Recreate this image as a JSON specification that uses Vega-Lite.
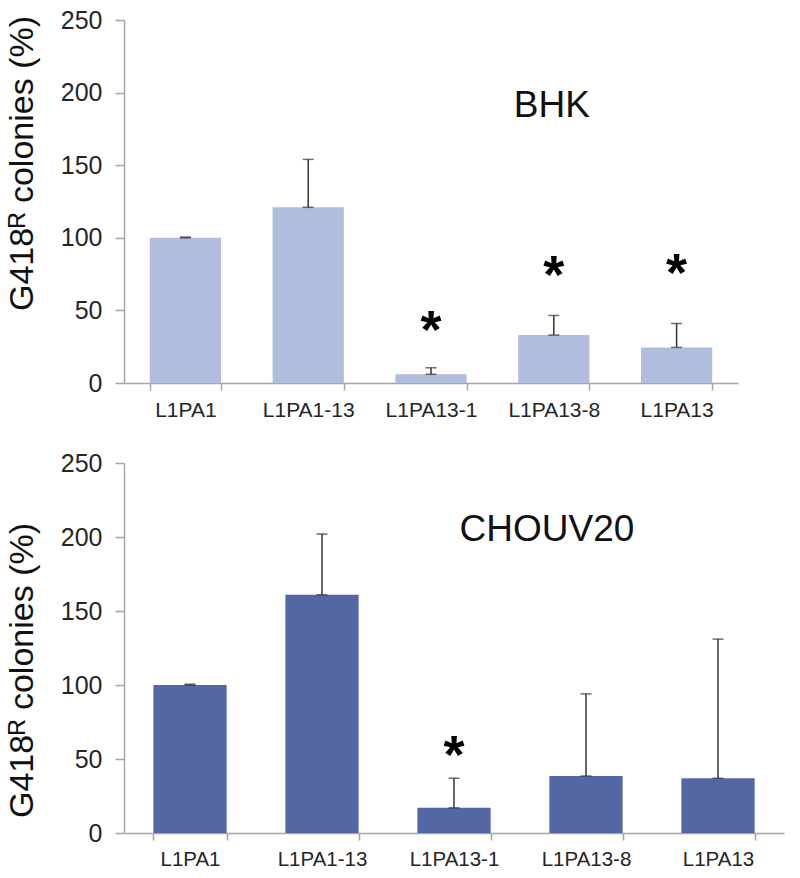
{
  "$schema": "https://vega.github.io/schema/vega-lite/v6.json",
  "padding": {"top": 8, "left": 5, "right": 5, "bottom": 5},
  "background": "white",
  "config": {
    "view": {"stroke": null},
    "font": "Liberation Sans",
    "axis": {"grid": false, "domainColor": "#a6a6a6", "tickColor": "#a6a6a6", "domainWidth": 1.5, "tickWidth": 1.5, "labelColor": "#262626", "titleColor": "#111111", "labelFont": "Liberation Sans", "titleFont": "Liberation Sans"}
  },
  "spacing": 31,
  "datasets": {
    "bhk": [
      {"cat": "L1PA1", "value": 100, "upper": 100.5, "star": null},
      {"cat": "L1PA1-13", "value": 121, "upper": 154, "star": null},
      {"cat": "L1PA13-1", "value": 6, "upper": 10.5, "star": 43},
      {"cat": "L1PA13-8", "value": 33, "upper": 46.5, "star": 80.7},
      {"cat": "L1PA13", "value": 24.5, "upper": 41, "star": 82}
    ],
    "chouv": [
      {"cat": "L1PA1", "value": 100, "upper": 100.5, "star": null},
      {"cat": "L1PA1-13", "value": 161, "upper": 202, "star": null},
      {"cat": "L1PA13-1", "value": 17, "upper": 37, "star": 59},
      {"cat": "L1PA13-8", "value": 38.5, "upper": 94, "star": null},
      {"cat": "L1PA13", "value": 37, "upper": 131, "star": null}
    ],
    "bhkLabel": [{"cat": "L1PA13-8", "y": 191, "label": "BHK"}],
    "chouvLabel": [{"cat": "L1PA13-8", "y": 205, "label": "CHOUV20"}]
  },
  "vconcat": [
    {
      "width": 614,
      "height": 363,
      "encoding": {
        "x": {"field": "cat", "type": "nominal", "sort": null,
              "scale": {"paddingInner": 0.42, "paddingOuter": 0.21},
              "axis": {"title": null, "labelAngle": 0, "labelFontSize": 21, "tickBand": "extent", "tickSize": 7, "labelPadding": 9}},
        "y": {"type": "quantitative", "scale": {"domain": [0, 250]},
              "axis": {"title": "G418ᴿ colonies (%)", "values": [0, 50, 100, 150, 200, 250], "labelFontSize": 25, "tickSize": 9, "labelPadding": 13, "titleFontSize": 34, "titleFontWeight": "normal", "titlePadding": 21, "titleY": 143}}
      },
      "layer": [
        {"data": {"name": "bhk"}, "mark": {"type": "bar", "color": "#b1bddd"}, "encoding": {"y": {"field": "value", "type": "quantitative"}}},
        {"data": {"name": "bhk"}, "mark": {"type": "rule", "color": "#333333", "strokeWidth": 1.5}, "encoding": {"y": {"field": "value", "type": "quantitative"}, "y2": {"field": "upper"}}},
        {"data": {"name": "bhk"}, "mark": {"type": "tick", "orient": "horizontal", "color": "#333333", "size": 11, "thickness": 1.5}, "encoding": {"y": {"field": "value", "type": "quantitative"}}},
        {"data": {"name": "bhk"}, "mark": {"type": "tick", "orient": "horizontal", "color": "#333333", "size": 11, "thickness": 1.5}, "encoding": {"y": {"field": "upper", "type": "quantitative"}}},
        {"data": {"name": "bhk"}, "transform": [{"filter": "datum.star != null"}], "mark": {"type": "text", "text": "*", "fontSize": 54, "fontWeight": "bold", "baseline": "middle", "dy": 11, "color": "#000000"}, "encoding": {"y": {"field": "star", "type": "quantitative"}}},
        {"data": {"name": "bhkLabel"}, "mark": {"type": "text", "fontSize": 37, "color": "#111111", "baseline": "middle", "dx": -2}, "encoding": {"y": {"field": "y", "type": "quantitative"}, "text": {"field": "label"}}}
      ]
    },
    {
      "width": 660,
      "height": 370,
      "encoding": {
        "x": {"field": "cat", "type": "nominal", "sort": null,
              "scale": {"paddingInner": 0.445, "paddingOuter": 0.2225},
              "axis": {"title": null, "labelAngle": 0, "labelFontSize": 20.5, "tickBand": "extent", "tickSize": 7, "labelPadding": 9}},
        "y": {"type": "quantitative", "scale": {"domain": [0, 250]},
              "axis": {"title": "G418ᴿ colonies (%)", "values": [0, 50, 100, 150, 200, 250], "labelFontSize": 25, "tickSize": 9, "labelPadding": 13, "titleFontSize": 34, "titleFontWeight": "normal", "titlePadding": 21, "titleY": 207}}
      },
      "layer": [
        {"data": {"name": "chouv"}, "mark": {"type": "bar", "color": "#5467a5"}, "encoding": {"y": {"field": "value", "type": "quantitative"}}},
        {"data": {"name": "chouv"}, "mark": {"type": "rule", "color": "#333333", "strokeWidth": 1.5}, "encoding": {"y": {"field": "value", "type": "quantitative"}, "y2": {"field": "upper"}}},
        {"data": {"name": "chouv"}, "mark": {"type": "tick", "orient": "horizontal", "color": "#333333", "size": 11, "thickness": 1.5}, "encoding": {"y": {"field": "value", "type": "quantitative"}}},
        {"data": {"name": "chouv"}, "mark": {"type": "tick", "orient": "horizontal", "color": "#333333", "size": 11, "thickness": 1.5}, "encoding": {"y": {"field": "upper", "type": "quantitative"}}},
        {"data": {"name": "chouv"}, "transform": [{"filter": "datum.star != null"}], "mark": {"type": "text", "text": "*", "fontSize": 54, "fontWeight": "bold", "baseline": "middle", "dy": 11, "color": "#000000"}, "encoding": {"y": {"field": "star", "type": "quantitative"}}},
        {"data": {"name": "chouvLabel"}, "mark": {"type": "text", "fontSize": 37, "color": "#111111", "baseline": "middle", "dx": -39}, "encoding": {"y": {"field": "y", "type": "quantitative"}, "text": {"field": "label"}}}
      ]
    }
  ]
}
